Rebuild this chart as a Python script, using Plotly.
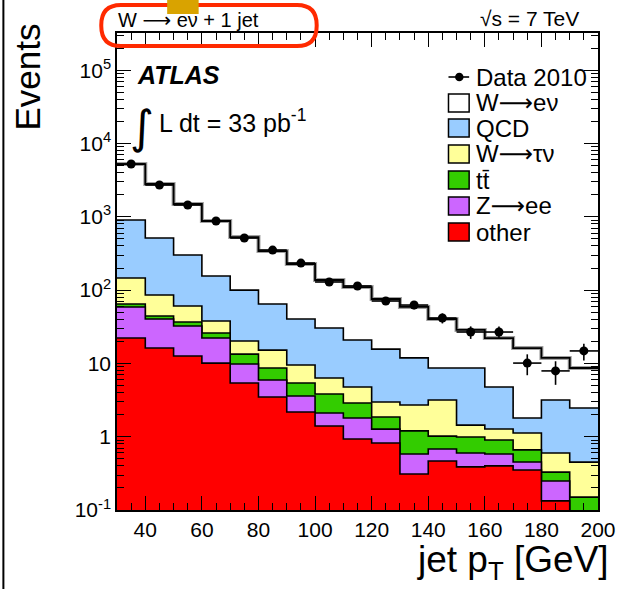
import numpy as np
import plotly.graph_objects as go

# ---------------- data ----------------
bin_edges = [30, 40, 50, 60, 70, 80, 90, 100, 110, 120, 130, 140, 150, 160, 170, 180, 190, 200]
x_ticks = [40, 60, 80, 100, 120, 140, 160, 180, 200]

data_2010 = [5250, 2716, 1449, 877, 514, 352, 234, 129, 114, 71, 62.6, 41.6, 26.8, 26.8, 10.1, 7.9, 14.8]
data_err = [72, 52, 38, 30, 23, 19, 15, 11, 11, 8.4, 7.9, 6.5, 5.2, 5.2, 3.2, 2.8, 3.8]

# stacked MC components (per bin, not cumulative)
other = [22.2, 16.2, 12.6, 10.1, 5.40, 3.48, 2.17, 1.40, 0.93, 0.82, 0.31, 0.466, 0.387, 0.40, 0.352, 0.133, 0.04]
z_ee = [36.6, 24.1, 19.8, 12.1, 4.42, 2.46, 1.42, 0.71, 0.87, 0.45, 0.27, 0.213, 0.213, 0.181, 0.10, 0.116, 0.03]
ttbar = [5.8, 4.0, 4.3, 3.8, 3.58, 2.71, 1.81, 1.72, 1.08, 0.59, 0.62, 0.34, 0.39, 0.32, 0.21, 0.08, 0.08]
w_taunu = [81.4, 41.4, 24.0, 11.9, 6.8, 6.55, 4.11, 2.49, 1.88, 1.11, 1.51, 2.15, 0.45, 0.37, 0.46, 0.27, 0.30]
qcd = [758, 428, 240, 118, 79.8, 49.4, 30.8, 24.1, 16.1, 12.7, 9.2, 5.5, 7.2, 3.5, 0.68, 2.57, 2.01]
w_enu = [4346, 2291, 1195, 721, 430, 276, 187, 107, 89, 60, 47, 31.7, 20.0, 17.4, 14.4, 8.7, 6.2]

y_tick_vals = [0.1, 1, 10, 100, 1000, 10000, 100000]
y_tick_text = ["10<sup>-1</sup>", "1", "10", "10<sup>2</sup>", "10<sup>3</sup>", "10<sup>4</sup>", "10<sup>5</sup>"]

ARROW = '<span style="font-family:DejaVu Sans">\u27f6</span>'
legend_labels = ["W" + ARROW + "e\u03bd", "QCD", "W" + ARROW + "\u03c4\u03bd", "tt\u0304", "Z" + ARROW + "ee", "other"]
layer_names = ["other", "Z\u2192ee", "tt\u0304", "W\u2192\u03c4\u03bd", "QCD", "W\u2192e\u03bd"]
layer_colors = ["#ff0000", "#cc66ff", "#33cc00", "#ffff99", "#99ccff", "#ffffff"]

# ---------------- figure ----------------
FONT = "Liberation Sans, Arial, Helvetica, sans-serif"
W_FIG, H_FIG = 628, 589
L, R, T, B = 117, 606, 33, 510
PW, PH = R - L, B - T


def px(x):
    return (x - L) / PW


def py(y):
    return (B - y) / PH


edges = np.array(bin_edges, dtype=float)
centers = 0.5 * (edges[:-1] + edges[1:])
half_w = 0.5 * (edges[1:] - edges[:-1])

layers = [other, z_ee, ttbar, w_taunu, qcd, w_enu]
cum = np.cumsum(np.array(layers, dtype=float), axis=0)

fig = go.Figure()

# draw from the top of the stack downward so smaller layers sit on top
for i in range(len(layers) - 1, -1, -1):
    yy = np.append(cum[i], cum[i][-1])
    fig.add_trace(go.Scatter(
        x=edges, y=yy, mode="lines", line_shape="hv",
        fill="tozeroy", fillcolor=layer_colors[i],
        line=dict(color="black", width=1.6 if i < len(layers) - 1 else 0),
        name=layer_names[i], showlegend=False, hoverinfo="skip",
    ))

# total MC line with grey uncertainty look
tot = np.append(cum[-1], cum[-1][-1])
fig.add_trace(go.Scatter(x=edges, y=tot, mode="lines", line_shape="hv",
                         line=dict(color="#a0a0a0", width=4), showlegend=False, hoverinfo="skip"))
fig.add_trace(go.Scatter(x=edges, y=tot, mode="lines", line_shape="hv",
                         line=dict(color="black", width=1.8), showlegend=False, hoverinfo="skip"))

# data
fig.add_trace(go.Scatter(
    x=centers, y=data_2010, mode="markers", name="Data 2010",
    marker=dict(color="black", size=9),
    error_y=dict(type="data", array=data_err, color="black", thickness=1.6, width=0),
    error_x=dict(type="data", array=half_w, color="black", thickness=1.6, width=0),
    showlegend=False,
))

shapes = []
annotations = []

# legend (drawn manually, ROOT style)
row_y = [103, 128, 154, 180, 206, 232]
legend_colors = ["#ffffff", "#99ccff", "#ffff99", "#33cc00", "#cc66ff", "#ff0000"]
bx0, bx1 = 454, 475
LEG_FONT = 24
for lab, col, yc in zip(legend_labels, legend_colors, row_y):
    shapes.append(dict(type="rect", xref="paper", yref="paper",
                       x0=px(bx0), x1=px(bx1), y0=py(yc + 9), y1=py(yc - 9),
                       fillcolor=col, line=dict(color="black", width=1.5)))
    annotations.append(dict(text=lab, xref="paper", yref="paper", x=px(480), y=py(yc),
                            xanchor="left", yanchor="middle", showarrow=False,
                            font=dict(size=LEG_FONT, family=FONT, color="black")))
# Data 2010 entry
shapes.append(dict(type="line", xref="paper", yref="paper",
                   x0=px(bx0), x1=px(bx1), y0=py(77), y1=py(77),
                   line=dict(color="black", width=1.6)))
shapes.append(dict(type="circle", xref="paper", yref="paper",
                   x0=px(465 - 4.3), x1=px(465 + 4.3), y0=py(77 + 4.3), y1=py(77 - 4.3),
                   fillcolor="black", line=dict(color="black", width=0)))
annotations.append(dict(text="Data 2010", xref="paper", yref="paper", x=px(480), y=py(77),
                        xanchor="left", yanchor="middle", showarrow=False,
                        font=dict(size=LEG_FONT, family=FONT, color="black")))

# titles / labels
annotations += [
    dict(text="W " + ARROW + " e\u03bd + 1 jet", xref="paper", yref="paper", x=px(116), y=py(20),
         xanchor="left", yanchor="middle", showarrow=False,
         font=dict(size=20, family=FONT, color="black")),
    dict(text="\u221as = 7 TeV", xref="paper", yref="paper", x=px(589), y=py(19),
         xanchor="right", yanchor="middle", showarrow=False,
         font=dict(size=21, family=FONT, color="black")),
    dict(text="<b><i>ATLAS</i></b>", xref="paper", yref="paper", x=px(135), y=py(75),
         xanchor="left", yanchor="middle", showarrow=False,
         font=dict(size=25, family=FONT, color="black")),
    dict(text="\u222b", xref="paper", yref="paper", x=px(142), y=py(127),
         xanchor="center", yanchor="middle", showarrow=False,
         font=dict(size=46, family="DejaVu Sans", color="black")),
    dict(text="L dt = 33 pb<sup>-1</sup>", xref="paper", yref="paper", x=px(158), y=py(121),
         xanchor="left", yanchor="middle", showarrow=False,
         font=dict(size=25, family=FONT, color="black")),
    dict(text="Events", xref="paper", yref="paper", x=px(25), y=py(77),
         xanchor="center", yanchor="middle", textangle=-90, showarrow=False,
         font=dict(size=35, family=FONT, color="black")),
    dict(text="jet p<sub>T</sub> [GeV]", xref="paper", yref="paper", x=px(619), y=py(562),
         xanchor="right", yanchor="middle", showarrow=False,
         font=dict(size=37, family=FONT, color="black")),
]

# red rounded highlight around the title and the small gold tab
x0r, x1r, ytr, ybr, rad = 101, 320, 5, 46, 20
rx, ry = rad / PW, rad / PH
X0, X1, YT, YB = px(x0r), px(x1r), py(ytr), py(ybr)
path = (f"M {X0+rx},{YT} L {X1-rx},{YT} Q {X1},{YT} {X1},{YT-ry} L {X1},{YB+ry} "
        f"Q {X1},{YB} {X1-rx},{YB} L {X0+rx},{YB} Q {X0},{YB} {X0},{YB+ry} "
        f"L {X0},{YT-ry} Q {X0},{YT} {X0+rx},{YT} Z")
shapes.append(dict(type="path", xref="paper", yref="paper", path=path,
                   line=dict(color="#ff2a00", width=4)))
shapes.append(dict(type="rect", xref="paper", yref="paper",
                   x0=px(168), x1=px(200), y0=py(14), y1=py(0),
                   fillcolor="#d9a300", line=dict(width=0)))
# left frame line of the picture
shapes.append(dict(type="line", xref="paper", yref="paper",
                   x0=px(1.5), x1=px(1.5), y0=py(0), y1=py(589),
                   line=dict(color="black", width=2)))

minor_y = [k * 10.0 ** n for n in range(-1, 6) for k in range(2, 10)]

fig.update_layout(
    width=W_FIG, height=H_FIG,
    margin=dict(l=L, r=W_FIG - R, t=T, b=H_FIG - B),
    paper_bgcolor="white", plot_bgcolor="white",
    showlegend=False,
    shapes=shapes, annotations=annotations,
    font=dict(family=FONT, color="black"),
    xaxis=dict(
        range=[30, 200], tickvals=x_ticks, ticks="inside", ticklen=14, tickwidth=1.2,
        tickcolor="black", showline=True, linecolor="black", linewidth=1.5, mirror="ticks",
        showgrid=False, zeroline=False, tickfont=dict(size=21, family=FONT, color="black"),
        minor=dict(dtick=5, tick0=30, ticks="inside", ticklen=7, tickcolor="black", showgrid=False),
    ),
    yaxis=dict(
        type="log", range=[-1, 5.508], tickvals=y_tick_vals, ticktext=y_tick_text,
        ticks="inside", ticklen=14, tickwidth=1.2, tickcolor="black",
        showline=True, linecolor="black", linewidth=1.5, mirror="ticks",
        showgrid=False, zeroline=False, tickfont=dict(size=21, family=FONT, color="black"),
        minor=dict(tickvals=minor_y, ticks="inside", ticklen=7, tickcolor="black", showgrid=False),
    ),
)

fig.write_html(
    "out.html",
    config={"displayModeBar": False},
    post_script="document.body.style.margin='0px';document.body.style.padding='0px';"
                "document.body.style.overflow='hidden';",
)
